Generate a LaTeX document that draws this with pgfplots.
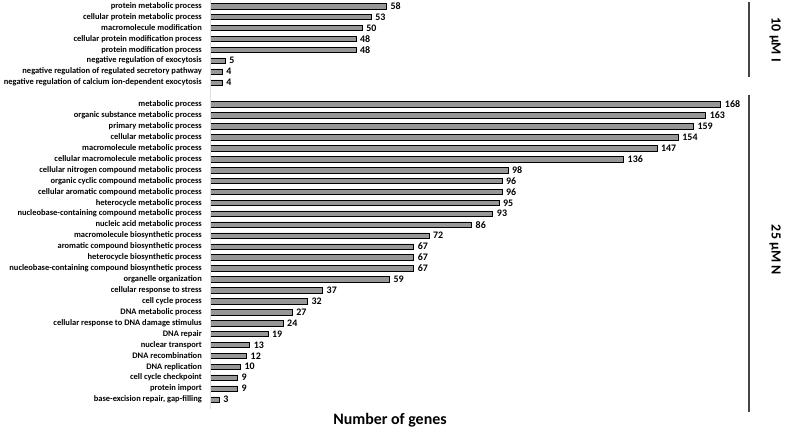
\documentclass[border=0pt]{standalone}
\usepackage{fontspec}
\setmainfont{Carlito}
\usepackage{pgfplots}
\usepackage{pgfplotstable}
\pgfplotsset{compat=1.18}
\definecolor{BarGray}{HTML}{979797}
\definecolor{LineGray}{HTML}{454545}

% row position (0 at top), number of genes
\pgfplotstableread{
y v
0 58
-1 53
-2 50
-3 48
-4 48
-5 5
-6 4
-7 4
-9 168
-10 163
-11 159
-12 154
-13 147
-14 136
-15 98
-16 96
-17 96
-18 95
-19 93
-20 86
-21 72
-22 67
-23 67
-24 67
-25 59
-26 37
-27 32
-28 27
-29 24
-30 19
-31 13
-32 12
-33 10
-34 9
-35 9
-36 3
}\genes

\begin{document}
\begin{tikzpicture}[x=1bp,y=1bp]
\useasboundingbox (0,0) rectangle (787,432);
\begin{axis}[
    at={(210bp,27bp)}, anchor=south west,
    scale only axis,
    width=532bp, height=404.4bp,
    xbar, bar width=5.5bp,
    xmin=0, xmax=175,
    ymin=-36.5, ymax=0.5,
    clip=false,
    axis line style={draw=none},
    major tick length=0pt,
    xtick=\empty,
    /pgf/number format/assume math mode=true,
    ytick={0,-1,-2,-3,-4,-5,-6,-7,-9,-10,-11,-12,-13,-14,-15,-16,-17,-18,-19,-20,-21,-22,-23,-24,-25,-26,-27,-28,-29,-30,-31,-32,-33,-34,-35,-36},
    yticklabels={protein metabolic process,cellular protein metabolic process,macromolecule modification,cellular protein modification process,protein modification process,negative regulation of exocytosis,negative regulation of regulated secretory pathway,negative regulation of calcium ion-dependent exocytosis,
    metabolic process,organic substance metabolic process,primary metabolic process,cellular metabolic process,macromolecule metabolic process,cellular macromolecule metabolic process,cellular nitrogen compound metabolic process,organic cyclic compound metabolic process,cellular aromatic compound metabolic process,heterocycle metabolic process,nucleobase-containing compound metabolic process,nucleic acid metabolic process,macromolecule biosynthetic process,aromatic compound biosynthetic process,heterocycle biosynthetic process,nucleobase-containing compound biosynthetic process,organelle organization,cellular response to stress,cell cycle process,DNA metabolic process,cellular response to DNA damage stimulus,DNA repair,nuclear transport,DNA recombination,DNA replication,cell cycle checkpoint,protein import,{base-excision repair, gap-filling}},
    yticklabel style={font=\fontsize{8.5}{8.5}\selectfont\bfseries, inner sep=0pt, xshift=-8bp},
    nodes near coords,
    nodes near coords style={font=\fontsize{10}{10}\selectfont\bfseries, anchor=west, inner sep=0pt, xshift=4bp},
]
\addplot[fill=BarGray, draw=black, line width=0.5bp] table[x=v, y=y] {\genes};
\draw[gray!25, line width=0.6bp] (axis cs:0,0.6) -- (axis cs:0,-36.9);
\draw[LineGray, line width=1.3bp] (axis cs:177.3,0.37) -- (axis cs:177.3,-6.5);
\draw[LineGray, line width=1.3bp] (axis cs:177.3,-8.14) -- (axis cs:177.3,-37.1);
\node[rotate=-90, font=\fontsize{14}{14}\selectfont\bfseries] at (axis cs:185.9,-3.1) {10 µM I};
\node[rotate=-90, font=\fontsize{14}{14}\selectfont\bfseries] at (axis cs:185.9,-22.3) {25 µM N};
\node[font=\fontsize{16}{16}\selectfont\bfseries] at (axis cs:59.2,-37.9) {Number of genes};
\end{axis}
\end{tikzpicture}
\end{document}
